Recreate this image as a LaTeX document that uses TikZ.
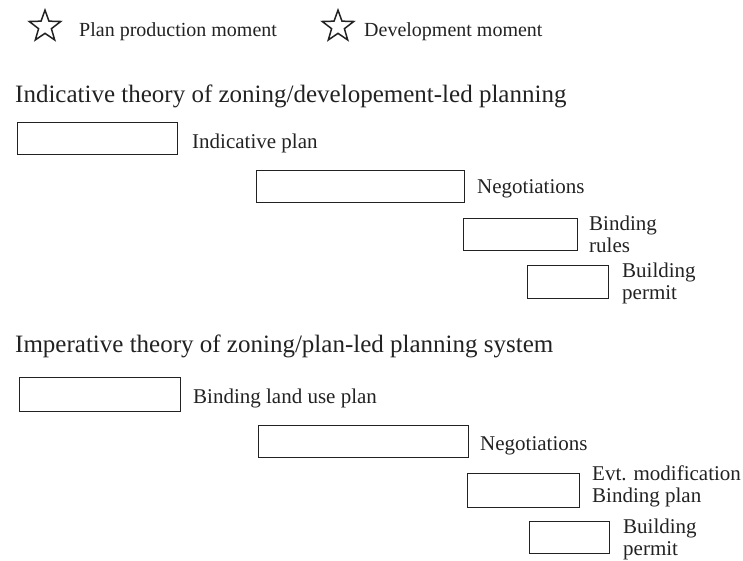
\documentclass[tikz,border=0pt]{standalone}
\usepackage{fontspec}
\setmainfont{Liberation Serif}
\usetikzlibrary{shapes.geometric}
\definecolor{ink}{HTML}{222222}
\begin{document}
\begin{tikzpicture}[x=1pt,y=-1pt,
  stage/.style={draw=ink, line width=1.4pt, inner sep=0pt, minimum height=32pt, anchor=north west},
  lab/.style={anchor=base west, inner sep=0pt, text=ink, font=\fontsize{21}{22}\selectfont, align=left},
  ttl/.style={anchor=base west, inner sep=0pt, text=ink, font=\fontsize{25}{28}\selectfont},
  legstar/.style={star, star points=5, star point ratio=2.45, draw=ink, line width=1.5pt, minimum size=33pt, inner sep=0pt}]
\useasboundingbox (0,0) rectangle (743,560);
% legend
\node[legstar] (s1) at (45,26.6) {};
\node[lab, font=\fontsize{20}{22}\selectfont] (l1) at (79,36) {Plan production moment};
\node[legstar] (s2) at (338,26.6) {};
\node[lab, font=\fontsize{20}{22}\selectfont] (l2) at (364,36) {Development moment};
% section 1
\node[ttl] (t1) at (15,102) {Indicative theory of zoning/developement-led planning};
\node[stage, minimum width=160pt] (a1) at (17,122) {};
\node[lab] (a1l) at (192,148) {Indicative plan};
\node[stage, minimum width=208pt] (a2) at (256,170) {};
\node[lab] (a2l) at (477,193) {Negotiations};
\node[stage, minimum width=114pt] (a3) at (463,218) {};
\node[lab] (a3l) at (589,252) {Binding\\rules};
\node[stage, minimum width=81pt, minimum height=33pt] (a4) at (527,265) {};
\node[lab] (a4l) at (622,299) {Building\\permit};
% section 2
\node[ttl] (t2) at (15,352) {Imperative theory of zoning/plan-led planning system};
\node[stage, minimum width=161pt, minimum height=34pt] (b1) at (19,377) {};
\node[lab] (b1l) at (193,403) {Binding land use plan};
\node[stage, minimum width=210pt] (b2) at (258,425) {};
\node[lab] (b2l) at (480,450) {Negotiations};
\node[stage, minimum width=112pt, minimum height=34pt] (b3) at (467,473) {};
\node[lab] (b3l) at (592,502) {Evt. modification\\Binding plan};
\node[stage, minimum width=80pt] (b4) at (529,521) {};
\node[lab] (b4l) at (623,555) {Building\\permit};
\end{tikzpicture}
\end{document}
